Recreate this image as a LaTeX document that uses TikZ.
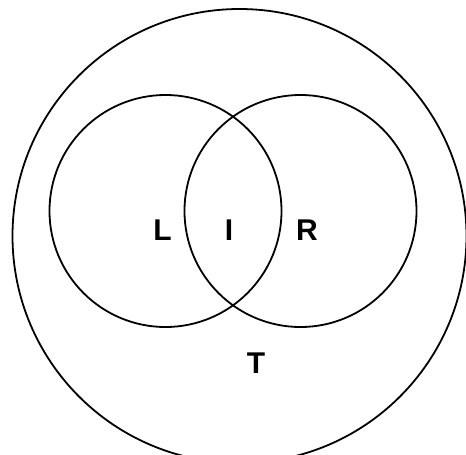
\documentclass[tikz,border=0pt]{standalone}
\usepackage{fontspec}
\setmainfont{Liberation Sans}
\begin{document}
\begin{tikzpicture}[x=1pt,y=-1pt,
  ring/.style={draw=black,line width=1.8pt},
  lbl/.style={font=\fontsize{30}{30}\selectfont\bfseries,inner sep=0pt,anchor=center}]
\useasboundingbox (0,0) rectangle (466,455);
\node[ring,circle,minimum size=454pt,inner sep=0pt] (T) at (239.5,236) {};
\node[ring,circle,minimum size=232pt,inner sep=0pt] (Lc) at (165.5,211) {};
\node[ring,circle,minimum size=232pt,inner sep=0pt] (Rc) at (300.5,211) {};
\node[lbl] (L) at (162.5,230) {L};
\node[lbl] (I) at (229,230) {I};
\node[lbl] (R) at (307,230) {R};
\node[lbl] (Tl) at (256,363) {T};
\end{tikzpicture}
\end{document}
